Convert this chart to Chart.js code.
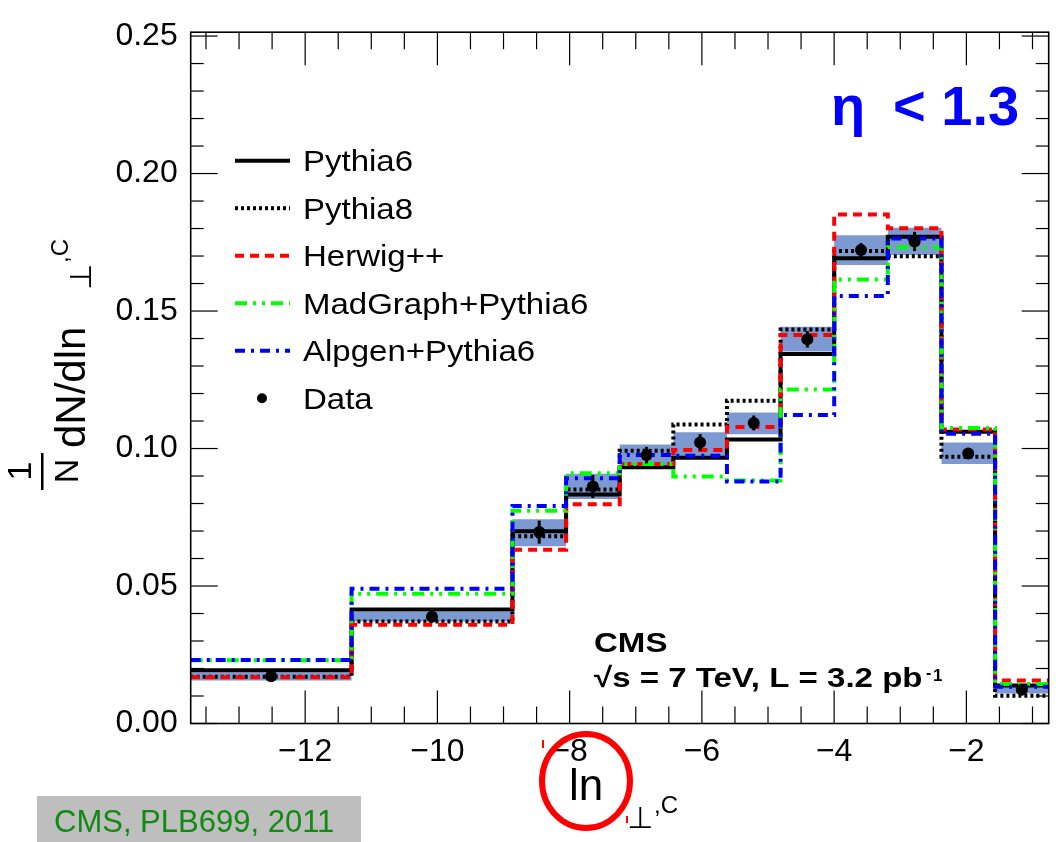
<!DOCTYPE html>
<html>
<head>
<meta charset="utf-8">
<script src="https://cdn.jsdelivr.net/npm/chart.js@4.4.1/dist/chart.umd.min.js"></script>
<style>
  html, body { margin: 0; padding: 0; background: #fff; }
  canvas { display: block; }
</style>
</head>
<body>
<canvas id="c" width="1056" height="842"></canvas>
<script>
// Bin edges of the ln(perp,C) histogram (first two bins are three times wider)
const binEdges = [-13.731, -11.298, -8.865, -8.054, -7.243, -6.432, -5.621, -4.810, -3.999, -3.188, -2.377, -1.566, -0.755];
const binCenters = [-12.515, -10.082, -8.460, -7.649, -6.838, -6.027, -5.216, -4.405, -3.594, -2.783, -1.972, -1.161];

// Generator predictions, normalised per bin
const pythia6  = [0.0194, 0.0415, 0.0699, 0.0833, 0.0932, 0.0966, 0.1033, 0.1344, 0.1692, 0.1770, 0.1061, 0.0138];
const pythia8  = [0.0170, 0.0371, 0.0681, 0.0851, 0.0992, 0.1087, 0.1174, 0.1433, 0.1718, 0.1699, 0.0970, 0.0101];
const herwig   = [0.0168, 0.0359, 0.0632, 0.0797, 0.0944, 0.0995, 0.1078, 0.1413, 0.1851, 0.1801, 0.1069, 0.0156];
const madgraph = [0.0230, 0.0472, 0.0774, 0.0910, 0.0944, 0.0898, 0.0884, 0.1215, 0.1615, 0.1732, 0.1075, 0.0144];
const alpgen   = [0.0231, 0.0490, 0.0791, 0.0892, 0.0976, 0.0974, 0.0880, 0.1122, 0.1555, 0.1764, 0.1054, 0.0134];

// Measured distribution: values, statistical errors, systematic band
const dataVals = [0.0172, 0.0388, 0.0696, 0.0862, 0.0976, 0.1022, 0.1093, 0.1397, 0.1722, 0.1753, 0.0982, 0.0123];
const dataErr  = [0.0006, 0.0006, 0.0042, 0.0042, 0.0030, 0.0030, 0.0027, 0.0030, 0.0025, 0.0035, 0.0010, 0.0006];
const bandLow  = [0.0156, 0.0371, 0.0645, 0.0816, 0.0937, 0.0962, 0.1052, 0.1353, 0.1667, 0.1704, 0.0944, 0.0109];
const bandHigh = [0.0186, 0.0406, 0.0743, 0.0908, 0.1015, 0.1059, 0.1131, 0.1443, 0.1776, 0.1803, 0.1022, 0.0135];

// Axis ticks
const xTickValues = [-12, -10, -8, -6, -4, -2];
const xTickLabels = ['\u221212', '\u221210', '\u22128', '\u22126', '\u22124', '\u22122'];
const yTickValues = [0, 0.05, 0.10, 0.15, 0.20, 0.25];
const yTickLabels = ['0.00', '0.05', '0.10', '0.15', '0.20', '0.25'];

const FONT = '"Liberation Sans", Arial, Helvetica, sans-serif';
const SYMFONT = '"DejaVu Sans", "Liberation Sans", sans-serif';
const BAND_COLOR = '#7d99d1';

// step-histogram points: one point per edge, last value repeated at the upper edge
function histPoints(vals) {
  return binEdges.map((e, i) => ({ x: e, y: vals[Math.min(i, vals.length - 1)] }));
}

function histDataset(label, vals, color, dash, order) {
  return {
    type: 'line', label, data: histPoints(vals), stepped: 'before',
    borderColor: color, borderWidth: 4, borderDash: dash, borderCapStyle: 'butt',
    pointRadius: 0, fill: false, tension: 0, order, showInLegend: true
  };
}

const datasets = [
  { type: 'line', label: 'band low', data: histPoints(bandLow), stepped: 'before',
    borderWidth: 0, pointRadius: 0, fill: false, order: 8 },
  { type: 'line', label: 'band high', data: histPoints(bandHigh), stepped: 'before',
    borderWidth: 0, pointRadius: 0, fill: '-1', backgroundColor: BAND_COLOR, order: 7 },
  histDataset('Pythia6', pythia6, '#000000', [], 6),
  histDataset('Pythia8', pythia8, '#000000', [3, 3], 5),
  histDataset('Herwig++', herwig, '#ff0000', [9, 6], 4),
  histDataset('MadGraph+Pythia6', madgraph, '#00ff00', [12, 6, 3, 6, 3, 6], 3),
  histDataset('Alpgen+Pythia6', alpgen, '#0000ff', [10, 6, 3, 6], 2),
  { type: 'line', label: 'Data', data: binCenters.map((x, i) => ({ x, y: dataVals[i] })),
    showLine: false, pointRadius: 6, pointBorderWidth: 0, pointBackgroundColor: '#000',
    pointStyle: 'circle', order: 1, showInLegend: true, isData: true }
];

// statistical error bars on the data points
const errorBars = {
  id: 'errorBars',
  afterDatasetsDraw(chart) {
    const { ctx, scales: { x, y } } = chart;
    ctx.save();
    ctx.strokeStyle = '#000';
    ctx.lineWidth = 3;
    binCenters.forEach((c, i) => {
      const px = x.getPixelForValue(c);
      ctx.beginPath();
      ctx.moveTo(px, y.getPixelForValue(dataVals[i] - dataErr[i]));
      ctx.lineTo(px, y.getPixelForValue(dataVals[i] + dataErr[i]));
      ctx.stroke();
    });
    ctx.restore();
  }
};

// frame with inward major/minor ticks on all four sides
const frameTicks = {
  id: 'frameTicks',
  afterDatasetsDraw(chart) {
    const { ctx, chartArea: { left, right, top, bottom }, scales: { x, y } } = chart;
    ctx.save();
    ctx.strokeStyle = '#000';
    ctx.lineWidth = 1.2;
    const seg = (x1, y1, x2, y2) => { ctx.beginPath(); ctx.moveTo(x1, y1); ctx.lineTo(x2, y2); ctx.stroke(); };
    for (let k = -27; k <= -2; k++) {
      const px = x.getPixelForValue(k / 2);
      if (px < left || px > right) continue;
      const len = (k % 4 === 0) ? 33 : 17;
      seg(px, bottom, px, bottom - len);
      seg(px, top, px, top + len);
    }
    for (let k = 0; k <= 25; k++) {
      const py = y.getPixelForValue(k / 100);
      const len = (k % 5 === 0) ? 27 : 13;
      seg(left, py, left + len, py);
      seg(right, py, right - len, py);
    }
    ctx.lineWidth = 1.6;
    ctx.strokeRect(left, top, right - left, bottom - top);
    ctx.restore();
  }
};

function drawText(ctx, str, x, y, font, color, sx = 1, align = 'left') {
  ctx.save();
  ctx.font = font;
  ctx.fillStyle = color;
  ctx.textAlign = align;
  ctx.textBaseline = 'alphabetic';
  ctx.translate(x, y);
  ctx.scale(sx, 1);
  ctx.fillText(str, 0, 0);
  ctx.restore();
}

function drawRotated(ctx, str, bx, sy, font, align = 'left') {
  ctx.save();
  ctx.translate(bx, sy);
  ctx.rotate(-Math.PI / 2);
  ctx.font = font;
  ctx.fillStyle = '#000';
  ctx.textAlign = align;
  ctx.textBaseline = 'alphabetic';
  ctx.fillText(str, 0, 0);
  ctx.restore();
}

// legend, axis titles and annotations
const annotations = {
  id: 'annotations',
  afterDraw(chart) {
    const { ctx } = chart;

    // legend
    const entries = chart.data.datasets.filter(d => d.showInLegend);
    entries.forEach((d, i) => {
      const rowY = 160.7 + i * 47.5;
      ctx.save();
      if (d.isData) {
        ctx.fillStyle = '#000';
        ctx.beginPath();
        ctx.arc(262, rowY, 5, 0, Math.PI * 2);
        ctx.fill();
      } else {
        ctx.strokeStyle = d.borderColor;
        ctx.lineWidth = d.borderWidth;
        ctx.setLineDash(d.borderDash);
        ctx.beginPath();
        ctx.moveTo(235, rowY);
        ctx.lineTo(290, rowY);
        ctx.stroke();
      }
      ctx.restore();
      drawText(ctx, d.label, 303, rowY + 10.5, '30px ' + FONT, '#000', 1.1);
    });

    // eta range
    drawText(ctx, '\u03b7', 831, 125, 'bold 56px ' + FONT, '#0000ff');
    drawText(ctx, '< 1.3', 893, 125, 'bold 56px ' + FONT, '#0000ff');

    // experiment label
    drawText(ctx, 'CMS', 594, 652, 'bold 28px ' + FONT, '#000', 1.18);
    drawText(ctx, '\u221as = 7 TeV, L = 3.2 pb', 594, 687, 'bold 28px ' + FONT, '#000', 1.18);
    drawText(ctx, '-', 926, 678, 'bold 16px ' + FONT, '#000');
    drawText(ctx, '1', 933, 681, 'bold 17px ' + FONT, '#000');

    // x-axis title
    drawText(ctx, 'ln', 569, 800, '44px ' + FONT, '#000');
    drawText(ctx, '\u22a5', 627, 828, '30px ' + SYMFONT, '#000');
    drawText(ctx, ',C', 654, 813, '24px ' + FONT, '#000');

    // y-axis title: 1/N dN/dln(perp,C)
    drawRotated(ctx, '1', 31, 471, '34px ' + FONT, 'center');
    ctx.save();
    ctx.fillStyle = '#000';
    ctx.fillRect(41, 453, 2.5, 37);
    ctx.restore();
    drawRotated(ctx, 'N', 78, 471, '34px ' + FONT, 'center');
    drawRotated(ctx, 'dN/dln', 85, 448, '42px ' + FONT);
    drawRotated(ctx, '\u22a5', 91, 290, '30px ' + SYMFONT);
    drawRotated(ctx, ',C', 68, 263, '24px ' + FONT);

    // highlight around the x-axis symbol
    ctx.save();
    ctx.strokeStyle = '#ff0000';
    ctx.lineWidth = 6;
    ctx.beginPath();
    ctx.ellipse(586, 781, 44, 47, 0, 0, Math.PI * 2);
    ctx.stroke();
    ctx.lineWidth = 2;
    ctx.beginPath(); ctx.moveTo(543, 740); ctx.lineTo(543, 748); ctx.stroke();
    ctx.beginPath(); ctx.moveTo(627, 816); ctx.lineTo(627, 823); ctx.stroke();
    ctx.restore();

    // citation box
    ctx.save();
    ctx.fillStyle = '#bebebe';
    ctx.fillRect(37, 796, 324, 46);
    ctx.restore();
    drawText(ctx, 'CMS, PLB699, 2011', 54, 832, '31px ' + FONT, '#128a12');
  }
};

new Chart(document.getElementById('c'), {
  data: { datasets },
  options: {
    responsive: false,
    animation: false,
    devicePixelRatio: 1,
    events: [],
    layout: { padding: { top: 22, right: 7.3, left: 0, bottom: 0 } },
    plugins: {
      legend: { display: false },
      tooltip: { enabled: false },
      filler: { propagate: false }
    },
    scales: {
      x: {
        type: 'linear',
        min: binEdges[0],
        max: binEdges[binEdges.length - 1],
        afterBuildTicks: s => { s.ticks = xTickValues.map(v => ({ value: v })); },
        afterFit: s => { s.height = 118.5; },
        grid: { display: false, drawTicks: false },
        border: { display: false },
        ticks: {
          autoSkip: false, maxRotation: 0, minRotation: 0, padding: 9,
          color: '#000', font: { family: FONT, size: 32 },
          callback: (v, i) => xTickLabels[i]
        }
      },
      y: {
        type: 'linear',
        min: 0,
        max: 0.2514,
        afterBuildTicks: s => { s.ticks = yTickValues.map(v => ({ value: v })); },
        afterFit: s => { s.width = 190.7; },
        grid: { display: false, drawTicks: false },
        border: { display: false },
        ticks: {
          autoSkip: false, padding: 13,
          color: '#000', font: { family: FONT, size: 32 },
          callback: (v, i) => yTickLabels[i]
        }
      }
    }
  },
  plugins: [errorBars, frameTicks, annotations]
});
</script>
</body>
</html>
